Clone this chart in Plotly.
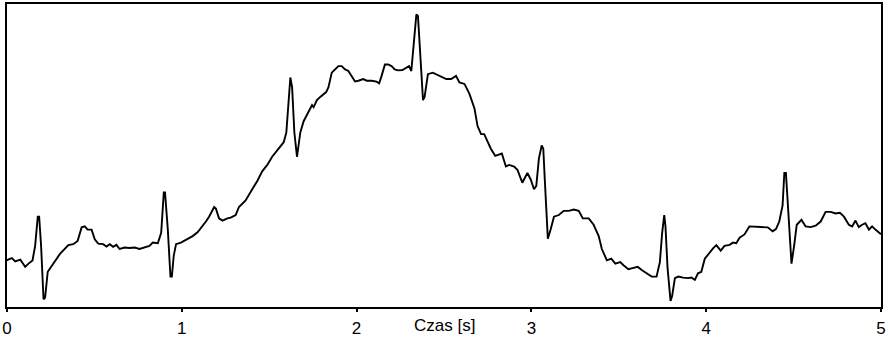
import plotly.graph_objects as go

# Time (s) and amplitude (arbitrary units)
t = [0.0, 0.006, 0.028, 0.047, 0.076, 0.104, 0.123, 0.146, 0.161, 0.176, 0.184, 0.195, 0.209, 0.218,
     0.233, 0.246, 0.275, 0.303, 0.351, 0.379, 0.404, 0.427, 0.445, 0.461, 0.484, 0.502, 0.522,
     0.55, 0.569, 0.588, 0.607, 0.626, 0.644, 0.673, 0.701, 0.73, 0.758, 0.787, 0.815, 0.834,
     0.863, 0.882, 0.897, 0.904, 0.92, 0.935, 0.943, 0.954, 0.967, 0.995, 1.034, 1.062, 1.09,
     1.119, 1.138, 1.156, 1.185, 1.195, 1.213, 1.233, 1.261, 1.28,
     1.29, 1.308, 1.327, 1.365, 1.403, 1.432, 1.46, 1.489, 1.517, 1.555, 1.583, 1.598, 1.621,
     1.631, 1.644, 1.659, 1.678, 1.697, 1.725, 1.745, 1.754, 1.773, 1.792, 1.826, 1.839, 1.858,
     1.877, 1.896, 1.915, 1.934, 1.953, 1.972, 1.991, 2.01, 2.038, 2.058, 2.086, 2.114, 2.129,
     2.143, 2.162, 2.18, 2.2, 2.218, 2.237, 2.262, 2.285, 2.3, 2.313, 2.328, 2.342, 2.351, 2.365,
     2.38, 2.389, 2.408, 2.436, 2.465, 2.493,
     2.513, 2.541, 2.569, 2.588, 2.617, 2.645, 2.674, 2.692, 2.712, 2.73, 2.749, 2.768, 2.793,
     2.812, 2.831, 2.854, 2.873, 2.901, 2.92, 2.948, 2.977, 2.996, 3.015, 3.028, 3.043, 3.059,
     3.068, 3.077, 3.094, 3.11, 3.129, 3.157, 3.185, 3.214, 3.242, 3.271, 3.294, 3.328, 3.356,
     3.385, 3.403, 3.432, 3.457, 3.48, 3.508, 3.527, 3.555, 3.584, 3.608, 3.631, 3.659, 3.688,
     3.716, 3.735, 3.748, 3.76,
     3.767, 3.779, 3.796, 3.805, 3.821, 3.84, 3.868, 3.896, 3.915, 3.935, 3.953, 3.972, 3.992,
     4.02, 4.039, 4.058, 4.083, 4.105, 4.134, 4.153, 4.172, 4.191, 4.219, 4.247, 4.276, 4.313,
     4.352, 4.38, 4.399, 4.418, 4.437, 4.447, 4.456, 4.469, 4.488, 4.503, 4.518, 4.545, 4.569,
     4.598, 4.626, 4.655, 4.683, 4.712, 4.74, 4.765, 4.788, 4.816, 4.835, 4.854, 4.873, 4.892,
     4.911, 4.931, 4.949, 4.968, 4.993, 5.0]

amp = [0.48, 0.487, 0.503, 0.47, 0.487, 0.413, 0.447, 0.48, 0.63, 0.93, 0.93, 0.63, 0.08, 0.097,
       0.363, 0.397, 0.463, 0.547, 0.637, 0.647, 0.68, 0.82, 0.83, 0.797, 0.797, 0.697, 0.653,
       0.647, 0.623, 0.647, 0.62, 0.64, 0.597, 0.613, 0.607, 0.613, 0.597, 0.613, 0.63, 0.663,
       0.657, 0.763, 1.18, 1.18, 0.797, 0.313, 0.313, 0.53, 0.647, 0.663, 0.697, 0.73, 0.77,
       0.83, 0.88, 0.93, 1.03, 1.013, 0.913, 0.89, 0.913, 0.92,
       0.93, 0.947, 1.03, 1.097, 1.213, 1.297, 1.397, 1.463, 1.547, 1.63, 1.697, 1.797, 2.363,
       2.263, 1.797, 1.547, 1.797, 1.913, 2.013, 2.08, 2.057, 2.13, 2.163, 2.213, 2.263, 2.413,
       2.447, 2.48, 2.48, 2.447, 2.43, 2.38, 2.323, 2.33, 2.347, 2.33, 2.33, 2.32, 2.303,
       2.38, 2.497, 2.497, 2.48, 2.447, 2.437, 2.44, 2.463, 2.48, 2.43, 2.697, 3.013, 2.997, 2.63,
       2.13, 2.163, 2.397, 2.413, 2.39, 2.363,
       2.347, 2.347, 2.38, 2.313, 2.297, 2.197, 2.047, 1.863, 1.78, 1.78, 1.697, 1.63, 1.557,
       1.57, 1.58, 1.447, 1.463, 1.447, 1.413, 1.28, 1.38, 1.313, 1.213, 1.247, 1.53, 1.663,
       1.63, 1.297, 0.703, 0.797, 0.93, 0.947, 0.99, 0.99, 1.003, 0.99, 0.913, 0.913, 0.847,
       0.73, 0.597, 0.48, 0.497, 0.447, 0.463, 0.43, 0.39, 0.403, 0.413, 0.38, 0.347, 0.313,
       0.313, 0.463, 0.763, 0.947,
       0.83, 0.397, 0.063, 0.113, 0.297, 0.313, 0.303, 0.297, 0.303, 0.28, 0.347, 0.363, 0.497,
       0.563, 0.603, 0.637, 0.58, 0.63, 0.64, 0.663, 0.657, 0.713, 0.747, 0.83, 0.83, 0.823,
       0.82, 0.78, 0.803, 0.88, 1.047, 1.38, 1.38, 0.963, 0.447, 0.63, 0.847, 0.897, 0.83,
       0.823, 0.837, 0.88, 0.98, 0.98, 0.963, 0.97, 0.93, 0.847, 0.83, 0.89, 0.823, 0.847,
       0.863, 0.797, 0.83, 0.797, 0.757, 0.75]

x_ticks = [0, 1, 2, 3, 4, 5]
x_title = "Czas [s]"

fig = go.Figure()
fig.add_trace(go.Scatter(x=t, y=amp, mode="lines",
                         line=dict(color="black", width=1.9), hoverinfo="skip"))

fig.update_layout(
    width=888, height=340,
    margin=dict(l=5, r=4, t=2, b=27),
    paper_bgcolor="white", plot_bgcolor="white",
    showlegend=False,
    font=dict(family="Liberation Sans, Arial, sans-serif", size=17, color="black"),
    xaxis=dict(range=[0, 5], tickvals=x_ticks, ticktext=[str(v) for v in x_ticks],
               showline=True, mirror=True, linecolor="black", linewidth=2,
               ticks="outside", ticklen=3, tickwidth=1.5, tickcolor="black",
               ticklabeloverflow="allow", ticklabelstandoff=2,
               showgrid=False, zeroline=False, fixedrange=True,
               tickfont=dict(size=17, color="black")),
    yaxis=dict(range=[0, 3.12], showline=True, mirror=True, linecolor="black", linewidth=2,
               showticklabels=False, ticks="", showgrid=False, zeroline=False, fixedrange=True),
    annotations=[dict(text=x_title, x=2.5, xref="x", y=0, yref="paper",
                      xanchor="center", yanchor="top", yshift=-7, showarrow=False,
                      font=dict(size=17, color="black"))],
)

fig.write_html("out.html")
